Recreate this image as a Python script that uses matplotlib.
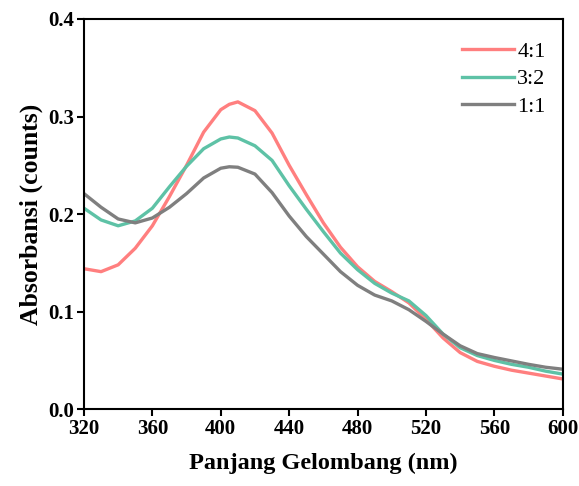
import numpy as np
import matplotlib
matplotlib.use("Agg")
import matplotlib.pyplot as plt

# wavelength (nm) and absorbance
wavelength = [320, 330, 340, 350, 360, 370, 380, 390, 400, 405, 410, 420, 430, 440, 450,
              460, 470, 480, 490, 500, 510, 520, 530, 540, 550, 560, 570, 580, 590, 600]
abs_4_1 = [0.144, 0.141, 0.148, 0.165, 0.188, 0.218, 0.250, 0.284, 0.307, 0.3125, 0.315, 0.306,
           0.283, 0.250, 0.220, 0.191, 0.166, 0.146, 0.131, 0.1205, 0.109, 0.092, 0.073, 0.058,
           0.049, 0.044, 0.040, 0.037, 0.034, 0.031]
abs_3_2 = [0.206, 0.194, 0.188, 0.193, 0.206, 0.228, 0.249, 0.267, 0.277, 0.279, 0.278, 0.270,
           0.255, 0.229, 0.205, 0.182, 0.160, 0.143, 0.129, 0.119, 0.111, 0.096, 0.077, 0.063,
           0.055, 0.050, 0.046, 0.043, 0.039, 0.036]
abs_1_1 = [0.221, 0.207, 0.195, 0.191, 0.196, 0.207, 0.221, 0.237, 0.247, 0.2485, 0.248, 0.241,
           0.222, 0.198, 0.177, 0.159, 0.141, 0.127, 0.117, 0.111, 0.102, 0.090, 0.077, 0.065,
           0.057, 0.053, 0.0495, 0.046, 0.043, 0.041]
labels = ['4:1', '3:2', '1:1']
colors = ['#FF7F7F', '#5EC2A6', '#7F7F7F']

plt.rcParams['font.family'] = ['Liberation Serif', 'DejaVu Serif']

fig = plt.figure(figsize=(5.79, 4.86), dpi=100)
ax = fig.add_axes([0.145, 0.158, 0.827, 0.803])

for y, lab, c in zip([abs_4_1, abs_3_2, abs_1_1], labels, colors):
    ax.plot(wavelength, y, color=c, lw=2.4, label=lab, solid_joinstyle='round')

ax.set_xlim(320, 600)
ax.set_ylim(0, 0.4)
ax.set_xticks(np.arange(320, 601, 40))
ax.set_yticks([0.0, 0.1, 0.2, 0.3, 0.4])
ax.set_yticklabels(['0.0', '0.1', '0.2', '0.3', '0.4'])
ax.tick_params(direction='out', length=5, width=1.5, labelsize=15, pad=2,
               top=False, right=False)
for lbl in ax.get_xticklabels() + ax.get_yticklabels():
    lbl.set_fontweight('bold')
for sp in ax.spines.values():
    sp.set_linewidth(1.5)

ax.set_xlabel('Panjang Gelombang (nm)', fontsize=17.5, fontweight='bold', labelpad=10)
ax.set_ylabel('Absorbansi (counts)', fontsize=18.5, fontweight='bold', labelpad=4)

# legend without frame, top right
ax.legend(loc='upper left', bbox_to_anchor=(0.789, 0.942), frameon=False, fontsize=16,
          handlelength=2.35, handletextpad=0.15, borderaxespad=0, borderpad=0,
          labelspacing=0.3)

fig.savefig('out.png', dpi=100)
